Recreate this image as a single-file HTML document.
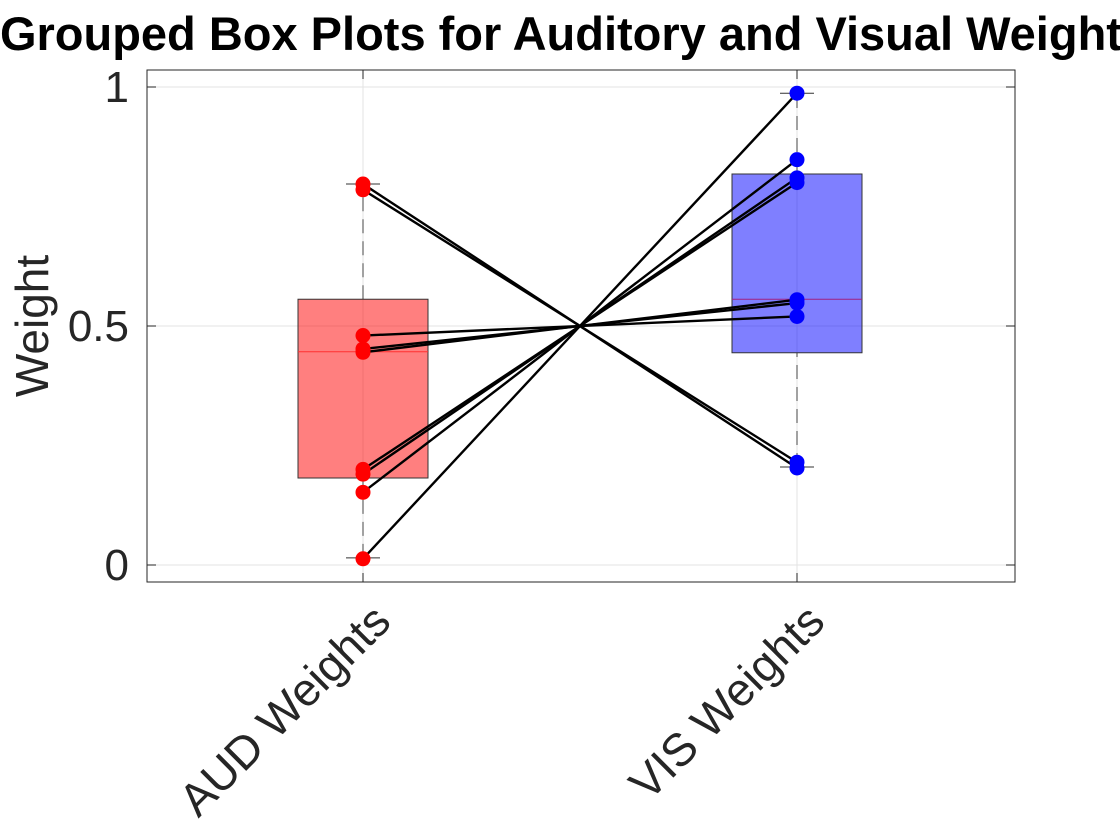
<!DOCTYPE html>
<html><head><meta charset="utf-8"><style>
html,body{margin:0;padding:0;background:#fff;width:1120px;height:840px;overflow:hidden}
svg{display:block;font-family:"Liberation Sans",Helvetica,Arial,sans-serif}
</style></head><body>
<svg id="chart" width="1120" height="840" viewBox="0 0 1120 840">
<text x="574" y="50" text-anchor="middle" font-size="47" font-weight="bold" fill="#000">Grouped Box Plots for Auditory and Visual Weights</text>
<g id="plot"></g>
</svg>
<script>
const categories = ["AUD Weights", "VIS Weights"];
const audValues = [0.013, 0.152, 0.19, 0.2, 0.445, 0.452, 0.48, 0.785, 0.797];
const visValues = [0.987, 0.848, 0.81, 0.8, 0.555, 0.548, 0.52, 0.215, 0.203];
const audBox = [0.015, 0.182, 0.446, 0.556, 0.797]; // min q1 med q3 max
const visBox = [0.205, 0.444, 0.556, 0.818, 0.987];
const yTicks = [0, 0.5, 1];
const yTickLabels = ["0", "0.5", "1"];

const L=147,R=1015,T=70,B=582;
const y = v => 565 - v*478;
const x = i => 363 + i*434;
const NS="http://www.w3.org/2000/svg";
const g=document.getElementById('plot');
function mk(tag,attrs,parent){const e=document.createElementNS(NS,tag);for(const k in attrs)e.setAttribute(k,attrs[k]);(parent||g).appendChild(e);return e;}

yTicks.forEach((t,i)=>{
  const l=mk('line',{x1:L,x2:R,y1:y(t),y2:y(t),stroke:'#e3e3e3','stroke-width':1});
  
  
  mk('line',{x1:L,x2:L+9,y1:y(t),y2:y(t),stroke:'#262626'});
  mk('line',{x1:R-9,x2:R,y1:y(t),y2:y(t),stroke:'#262626'});
  const tx=mk('text',{x:L-18,y:y(t)+15,'text-anchor':'end','font-size':44,fill:'#262626'});
  tx.textContent=yTickLabels[i];
  
  
});
categories.forEach((c,i)=>{
  const l=mk('line',{x1:x(i),x2:x(i),y1:T,y2:B,stroke:'#e3e3e3'});
  
  
  mk('line',{x1:x(i),x2:x(i),y1:B-9,y2:B,stroke:'#262626'});
  mk('line',{x1:x(i),x2:x(i),y1:T,y2:T+9,stroke:'#262626'});
  const tx=mk('text',{x:0,y:0,'text-anchor':'end','font-size':46,fill:'#262626',transform:`translate(${x(i)+30},${B+42}) rotate(-45)`});
  tx.textContent=c;
  
  
});

function box(i,b,fill,med,name){
  const cx=x(i),hw=65;
  mk('line',{x1:cx,x2:cx,y1:y(b[0]),y2:y(b[1]),stroke:'#444','stroke-dasharray':'14,8'});
  mk('line',{x1:cx,x2:cx,y1:y(b[3]),y2:y(b[4]),stroke:'#444','stroke-dasharray':'14,8'});
  mk('line',{x1:cx-17,x2:cx+17,y1:y(b[0]),y2:y(b[0]),stroke:'#333'});
  mk('line',{x1:cx-17,x2:cx+17,y1:y(b[4]),y2:y(b[4]),stroke:'#333'});
  const r=mk('rect',{x:cx-hw,y:y(b[3]),width:2*hw,height:y(b[1])-y(b[3]),fill:fill,'fill-opacity':0.5,stroke:'#333','stroke-width':1});
  
  
  mk('line',{x1:cx-hw,x2:cx+hw,y1:y(b[2]),y2:y(b[2]),stroke:med,'stroke-width':1});
}
box(0,audBox,'#ff0000','#ff3030','aud-box');
box(1,visBox,'#0000ff','#a02080','vis-box');

audValues.forEach((a,k)=>{
  const l=mk('line',{x1:x(0),y1:y(a),x2:x(1),y2:y(visValues[k]),stroke:'#000','stroke-width':2.4});
  
  
});
audValues.forEach(a=>{
  const c=mk('circle',{cx:x(0),cy:y(a),r:7.5,fill:'#ff0000'});
  
  
});
visValues.forEach(v=>{
  const c=mk('circle',{cx:x(1),cy:y(v),r:7.5,fill:'#0000ff'});
  
  
});
const fr=mk('rect',{x:L,y:T,width:R-L,height:B-T,fill:'none',stroke:'#262626','stroke-width':1});


const yl=mk('text',{x:0,y:0,'text-anchor':'middle','font-size':46,fill:'#262626',transform:'translate(48,326) rotate(-90)'});
yl.textContent='Weight';


</script>
</body></html>
